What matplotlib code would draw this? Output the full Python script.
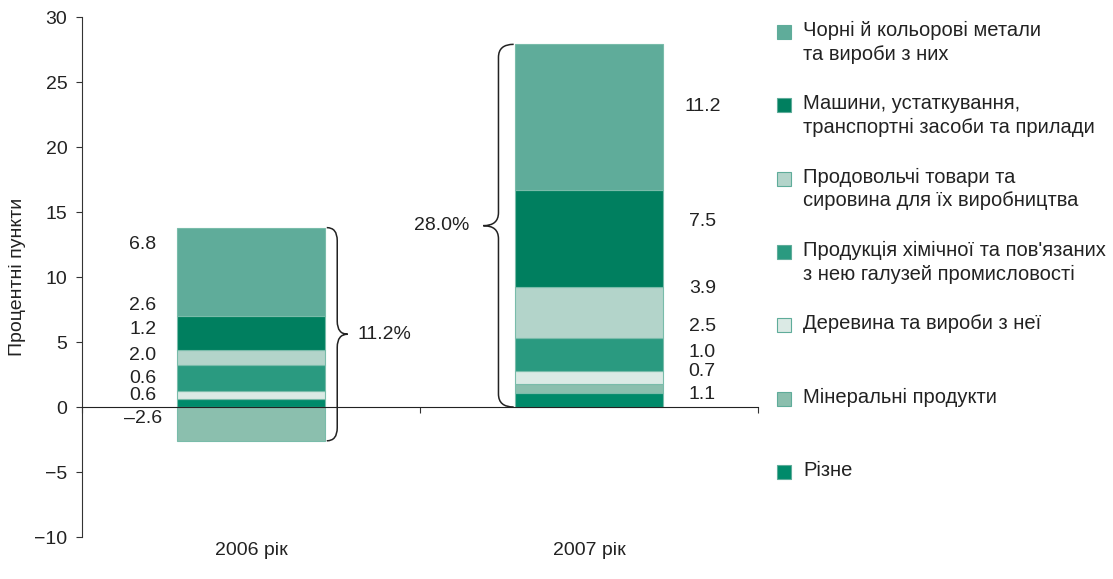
import matplotlib.pyplot as plt
import numpy as np
from matplotlib.path import Path
from matplotlib.patches import PathPatch, Rectangle

plt.rcParams['font.family'] = ['Liberation Sans', 'DejaVu Sans']
plt.rcParams['font.size'] = 14

years = ['2006 рік', '2007 рік']
groups = ['Чорні й кольорові метали\nта вироби з них',
          'Машини, устаткування,\nтранспортні засоби та прилади',
          'Продовольчі товари та\nсировина для їх виробництва',
          "Продукція хімічної та пов'язаних\nз нею галузей промисловості",
          'Деревина та вироби з неї',
          'Мінеральні продукти',
          'Різне']
v2006 = [6.8, 2.6, 1.2, 2.0, 0.6, -2.6, 0.6]
v2007 = [11.2, 7.5, 3.9, 2.5, 1.0, 0.7, 1.1]
totals = [11.2, 28.0]
colors = ['#5fac9a', '#007f5f', '#b3d4ca', '#2a9a80', '#dbeae5', '#8bbfae', '#008a6a']

# where the value labels sit (they are spread out by hand in the source)
lab_y2006 = [12.5, 7.8, 6.0, 4.0, 2.2, -0.9, 0.85]
lab_y2007 = [23.15, 14.3, 9.15, 6.2, 4.2, 2.7, 1.0]

fig = plt.figure(figsize=(11.13, 5.79), dpi=100)
ax = fig.add_axes([0.0737, 0.0725, 0.6074, 0.8981])

width = 0.44
stack_order = [6, 5, 4, 3, 2, 1, 0]  # bottom to top
for xi, vals in enumerate([v2006, v2007]):
    pos, neg = 0.0, 0.0
    for k in stack_order:
        v = vals[k]
        if v >= 0:
            ax.bar(xi, v, width, bottom=pos, color=colors[k], edgecolor='#79bcaa', linewidth=0.8, zorder=2)
            pos += v
        else:
            ax.bar(xi, v, width, bottom=neg, color=colors[k], edgecolor='#79bcaa', linewidth=0.8, zorder=2)
            neg += v


def fmt(v):
    return ('–%.1f' % abs(v)) if v < 0 else '%.1f' % v


for k in range(len(groups)):
    ax.text(-0.32, lab_y2006[k], fmt(v2006[k]), ha='center', va='center', color='#222222')
    ax.text(1.335, lab_y2007[k], fmt(v2007[k]), ha='center', va='center', color='#222222')


def brace(x, y0, y1, w, r=1.0):
    xm = x + w / 2
    ym = (y0 + y1) / 2
    verts = [(x, y1), (xm, y1), (xm, y1 - r), (xm, ym + r), (xm, ym), (x + w, ym),
             (xm, ym), (xm, ym - r), (xm, y0 + r), (xm, y0), (x, y0)]
    codes = [Path.MOVETO, Path.CURVE3, Path.CURVE3, Path.LINETO, Path.CURVE3, Path.CURVE3,
             Path.CURVE3, Path.CURVE3, Path.LINETO, Path.CURVE3, Path.CURVE3]
    ax.add_patch(PathPatch(Path(verts, codes), facecolor='none', edgecolor='#222222', lw=1.1,
                           clip_on=False, zorder=3))


top06 = sum(v for v in v2006 if v > 0)
bot06 = sum(v for v in v2006 if v < 0)
top07 = sum(v for v in v2007 if v > 0)
brace(0.224, bot06, top06, 0.062)
ax.text(0.316, (bot06 + top06) / 2, '%.1f%%' % totals[0], ha='left', va='center', color='#222222')
brace(0.777, 0, top07, -0.09)
ax.text(0.647, top07 / 2, '%.1f%%' % totals[1], ha='right', va='center', color='#222222')

ax.set_xlim(-0.5, 1.5)
ax.set_ylim(-10, 30)
ax.set_yticks(np.arange(-10, 31, 5))
ax.spines['top'].set_visible(False)
ax.spines['right'].set_visible(False)
ax.spines['bottom'].set_position(('data', 0))
ax.spines['bottom'].set_color('#222222')
ax.spines['left'].set_color('#333333')
ax.spines['bottom'].set_zorder(4)
ax.set_xticks([-0.5, 0.5, 1.5])
ax.set_xticklabels([])
ax.tick_params(axis='x', direction='out', length=4.5, color='#333333')
ax.tick_params(axis='y', direction='out', length=4.5, pad=6, color='#333333', labelsize=14,
               labelcolor='#222222')
ax.set_ylabel('Процентні пункти', fontsize=14, color='#222222')
ax.yaxis.set_label_coords(-0.083, 0.5)

for xi, yr in enumerate(years):
    ax.text(xi, -11, yr, ha='center', va='center', color='#222222', clip_on=False)

# legend on the right
W, H = 1113, 579
for i, name in enumerate(groups):
    yc = 32 + i * 73.3
    fig.add_artist(Rectangle((777 / W, 1 - (yc + 7) / H), 14 / W, 14 / H, transform=fig.transFigure,
                             facecolor=colors[i], edgecolor='#5fac9a', linewidth=0.8))
    fig.text(803 / W, 1 - (yc - 11) / H, name, ha='left', va='top', fontsize=14.5, color='#222222',
             linespacing=1.3)

fig.savefig('out.png', dpi=100)
